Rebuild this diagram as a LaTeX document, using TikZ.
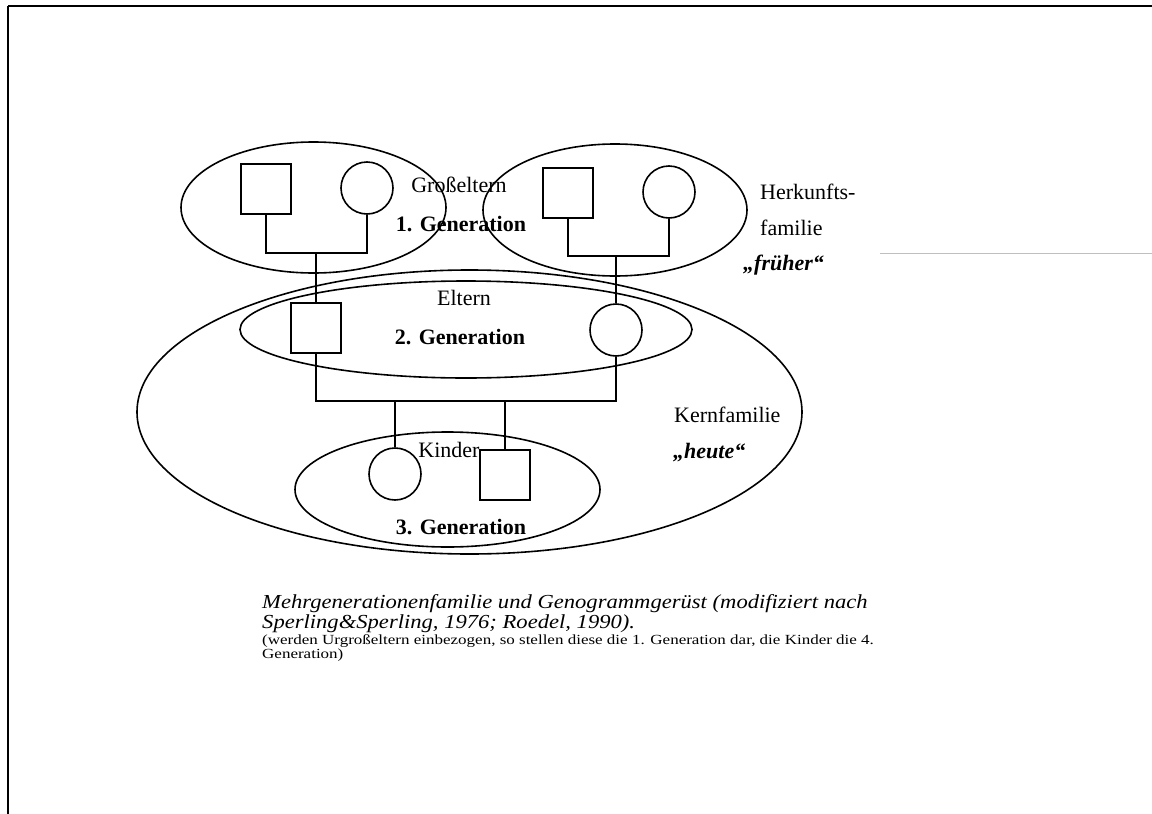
\documentclass[tikz,border=0pt]{standalone}
\usepackage{graphicx}
\usepackage{fontspec}
\setmainfont{Liberation Serif}
\usetikzlibrary{shapes.geometric}
\begin{document}
\begin{tikzpicture}[x=1pt,y=-1pt,
  fam/.style={draw, ellipse, inner sep=0pt, line width=1.6pt},
  male/.style={draw, rectangle, minimum width=50pt, minimum height=50pt, inner sep=0pt, line width=1.6pt},
  female/.style={draw, circle, minimum size=52pt, inner sep=0pt, line width=1.6pt},
  tie/.style={line width=1.6pt},
  lbl/.style={inner sep=0pt, font=\fontsize{22}{26}\selectfont},
  lblb/.style={inner sep=0pt, font=\fontsize{22}{26}\selectfont\bfseries},
  lblbi/.style={inner sep=0pt, font=\fontsize{22}{26}\selectfont\bfseries\itshape},
  capi/.style={inner sep=0pt, anchor=base west, font=\fontsize{22.6}{26}\selectfont\itshape},
  caps/.style={inner sep=0pt, anchor=base west, font=\fontsize{17}{20}\selectfont}]
\useasboundingbox (0,0) rectangle (1152,814);
\fill[white] (0,0) rectangle (1152,814);

% page frame
\draw[line width=2pt] (8,6) -- (1152,6);
\draw[line width=2pt] (8,6) -- (8,814);
\draw[black!25, line width=1pt] (880,253) -- (1152,253);

% family circles
\node[fam, minimum width=265pt, minimum height=131pt] (gpe) at (313.5,207.5) {};
\node[fam, minimum width=264pt, minimum height=132pt] (hke) at (615,210) {};
\node[fam, minimum width=665pt, minimum height=284pt] (kfe) at (469.5,412) {};
\node[fam, minimum width=452pt, minimum height=97pt] (ele) at (466,329.5) {};
\node[fam, minimum width=305pt, minimum height=115pt] (kie) at (447.5,489.5) {};

% persons
\node[male] (gfa) at (266,189) {};
\node[female] (gmo) at (367,188) {};
\node[male] (hfa) at (568,193) {};
\node[female] (hmo) at (669,192) {};
\node[male] (fa) at (316,328) {};
\node[female] (mo) at (616,330) {};
\node[female] (kd) at (395,474) {};
\node[male] (ks) at (505,475) {};

% junctions
\coordinate (j1) at (316,253);
\coordinate (j2) at (616,256);
\coordinate (pbar) at (460,401);

% connectors
\draw[tie] (gfa.south) |- (j1) -| (gmo.south);
\draw[tie] (j1) -- (fa.north);
\draw[tie] (hfa.south) |- (j2) -| (hmo.south);
\draw[tie] (j2) -- (mo.north);
\draw[tie] (fa.south) |- (pbar) -| (mo.south);
\draw[tie] (kd.north) -- (kd.north |- pbar);
\draw[tie] (ks.north) -- (ks.north |- pbar);

% labels
\node[lbl] (tgp) at (459,185) {Großeltern};
\node[lblb] (tg1) at (461,224) {1. Generation};
\node[lbl, anchor=west] (the) at (760,192) {Herkunfts-};
\node[lbl, anchor=west] (tfa) at (760,228) {familie};
\node[lblbi, anchor=west] (tfr) at (743,265) {„früher“};
\node[lbl] (tel) at (464,298) {Eltern};
\node[lblb] (tg2) at (460,337) {2. Generation};
\node[lbl, anchor=west] (tkf) at (674,415) {Kernfamilie};
\node[lblbi, anchor=west] (the2) at (673,453) {„heute“};
\node[lbl] (tki) at (449,450) {Kinder};
\node[lblb] (tg3) at (461,527) {3. Generation};

% caption
\node[capi] (c1) at (262,608) {\scalebox{1}[0.88]{Mehrgenerationenfamilie und Genogrammgerüst (modifiziert nach}};
\node[capi] (c2) at (262,628) {\scalebox{1}[0.88]{Sperling\&Sperling, 1976; Roedel, 1990).}};
\node[caps] (c3) at (262,644) {\scalebox{1}[0.82]{(werden Urgroßeltern einbezogen, so stellen diese die 1. Generation dar, die Kinder die 4.}};
\node[caps] (c4) at (262,658) {\scalebox{1}[0.82]{Generation)}};
\end{tikzpicture}
\end{document}
